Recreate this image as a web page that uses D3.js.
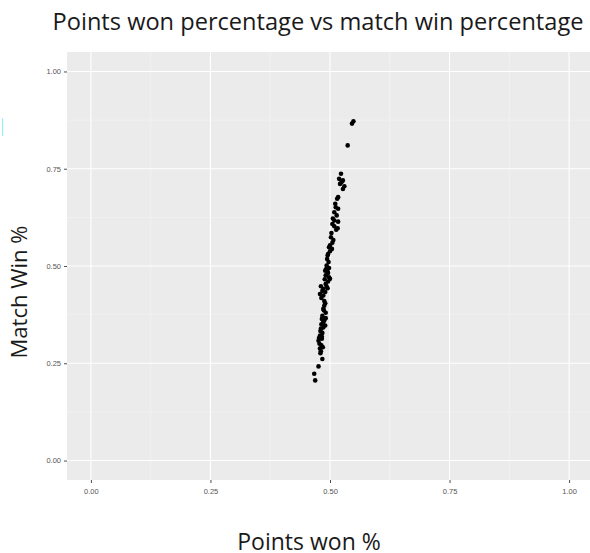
<!DOCTYPE html>
<html>
<head>
<meta charset="utf-8">
<script src="https://cdn.jsdelivr.net/npm/d3@7"></script>
<style>
  body { margin: 0; background: #fff; }
  svg { display: block; }
</style>
</head>
<body>
<svg id="chart" width="590" height="553"></svg>
<script>
// points won share vs match win share
const pointsWon = [
  0.549, 0.546, 0.537, 0.523, 0.519, 0.524, 0.530, 0.527, 0.515, 0.517,
  0.512, 0.517, 0.509, 0.514, 0.509, 0.517, 0.505, 0.509, 0.516, 0.513,
  0.502, 0.507, 0.500, 0.504, 0.496, 0.500, 0.495, 0.493, 0.498, 0.490,
  0.496, 0.491, 0.498, 0.500, 0.496, 0.491, 0.495, 0.486, 0.481, 0.479,
  0.490, 0.486, 0.488, 0.486, 0.491, 0.483, 0.491, 0.486, 0.490, 0.481,
  0.484, 0.479, 0.476, 0.483, 0.478, 0.485, 0.481, 0.484, 0.476, 0.467,
  0.469, 0.511, 0.506, 0.503, 0.505, 0.498, 0.494, 0.497, 0.492, 0.495,
  0.489, 0.493, 0.484, 0.482, 0.488, 0.490, 0.487, 0.484, 0.488, 0.482,
  0.486, 0.480, 0.483, 0.477, 0.482, 0.479, 0.480, 0.527, 0.521
];
const matchWin = [
  0.872, 0.866, 0.810, 0.737, 0.724, 0.715, 0.705, 0.698, 0.673, 0.677,
  0.651, 0.647, 0.638, 0.630, 0.617, 0.614, 0.608, 0.602, 0.597, 0.593,
  0.574, 0.567, 0.553, 0.544, 0.531, 0.538, 0.527, 0.501, 0.495, 0.488,
  0.482, 0.476, 0.471, 0.467, 0.460, 0.454, 0.443, 0.441, 0.448, 0.428,
  0.433, 0.424, 0.398, 0.390, 0.380, 0.364, 0.366, 0.356, 0.347, 0.339,
  0.328, 0.321, 0.308, 0.313, 0.300, 0.291, 0.281, 0.261, 0.242, 0.223,
  0.206, 0.660, 0.622, 0.585, 0.560, 0.548, 0.518, 0.510, 0.492, 0.486,
  0.466, 0.447, 0.436, 0.418, 0.410, 0.404, 0.386, 0.372, 0.360, 0.350,
  0.342, 0.333, 0.318, 0.315, 0.296, 0.288, 0.276, 0.720, 0.711
];
const tickValues = [0, 0.25, 0.5, 0.75, 1];
const tickLabels = ["0.00", "0.25", "0.50", "0.75", "1.00"];
const minorValues = [0.125, 0.375, 0.625, 0.875];

const svg = d3.select("#chart");
const panel = { left: 67, top: 52, right: 593, bottom: 480 };

// ggplot-style expansion of 5% on each side
const x = d3.scaleLinear().domain([-0.05, 1.05]).range([panel.left, panel.right]);
const y = d3.scaleLinear().domain([-0.05, 1.05]).range([panel.bottom, panel.top]);

svg.append("rect")
  .attr("x", panel.left).attr("y", panel.top)
  .attr("width", panel.right - panel.left).attr("height", panel.bottom - panel.top)
  .attr("fill", "#ebebeb");

const grid = svg.append("g");
grid.selectAll(".minor-x").data(minorValues).join("line")
  .attr("x1", d => x(d)).attr("x2", d => x(d))
  .attr("y1", panel.top).attr("y2", panel.bottom)
  .attr("stroke", "#f5f5f5").attr("stroke-width", 0.6);
grid.selectAll(".minor-y").data(minorValues).join("line")
  .attr("y1", d => y(d)).attr("y2", d => y(d))
  .attr("x1", panel.left).attr("x2", panel.right)
  .attr("stroke", "#f5f5f5").attr("stroke-width", 0.6);
grid.selectAll(".major-x").data(tickValues).join("line")
  .attr("x1", d => x(d)).attr("x2", d => x(d))
  .attr("y1", panel.top).attr("y2", panel.bottom)
  .attr("stroke", "#fff").attr("stroke-width", 1.1);
grid.selectAll(".major-y").data(tickValues).join("line")
  .attr("y1", d => y(d)).attr("y2", d => y(d))
  .attr("x1", panel.left).attr("x2", panel.right)
  .attr("stroke", "#fff").attr("stroke-width", 1.1);

// axes
const xAxis = d3.axisBottom(x).tickValues(tickValues)
  .tickFormat((d, i) => tickLabels[i]).tickSize(3).tickPadding(6);
const yAxis = d3.axisLeft(y).tickValues(tickValues)
  .tickFormat((d, i) => tickLabels[i]).tickSize(3).tickPadding(3);

const gx = svg.append("g").attr("transform", `translate(0,${panel.bottom})`).call(xAxis);
const gy = svg.append("g").attr("transform", `translate(${panel.left},0)`).call(yAxis);
[gx, gy].forEach(g => {
  g.select(".domain").remove();
  g.selectAll(".tick line").attr("stroke", "#4d4d4d");
  g.selectAll(".tick text")
    .attr("fill", "#555")
    .style("font-family", "'Liberation Sans', Arial, sans-serif")
    .style("font-size", "7.5px");
});

// points
svg.append("g").selectAll("circle")
  .data(pointsWon.map((p, i) => [p, matchWin[i]]))
  .join("circle")
  .attr("cx", d => x(d[0]))
  .attr("cy", d => y(d[1]))
  .attr("r", 2.3)
  .attr("fill", "#000");

// titles
const labelFont = "'Open Sans', Lato, sans-serif";
svg.append("text")
  .attr("x", 318).attr("y", 30)
  .attr("text-anchor", "middle")
  .style("font-family", labelFont).style("font-size", "23.6px")
  .attr("fill", "#1a1a1a")
  .text("Points won percentage vs match win percentage");

svg.append("text")
  .attr("transform", "translate(27,292) rotate(-90)")
  .attr("text-anchor", "middle")
  .style("font-family", labelFont).style("font-size", "22px")
  .attr("fill", "#1a1a1a")
  .text("Match Win %");

svg.append("text")
  .attr("x", 309).attr("y", 550)
  .attr("text-anchor", "middle")
  .style("font-family", labelFont).style("font-size", "23px")
  .attr("fill", "#1a1a1a")
  .text("Points won %");

// small cyan mark near the left edge of the picture
svg.append("rect")
  .attr("x", 2).attr("y", 118).attr("width", 1.2).attr("height", 18)
  .attr("fill", "#9beef5");
</script>
</body>
</html>
